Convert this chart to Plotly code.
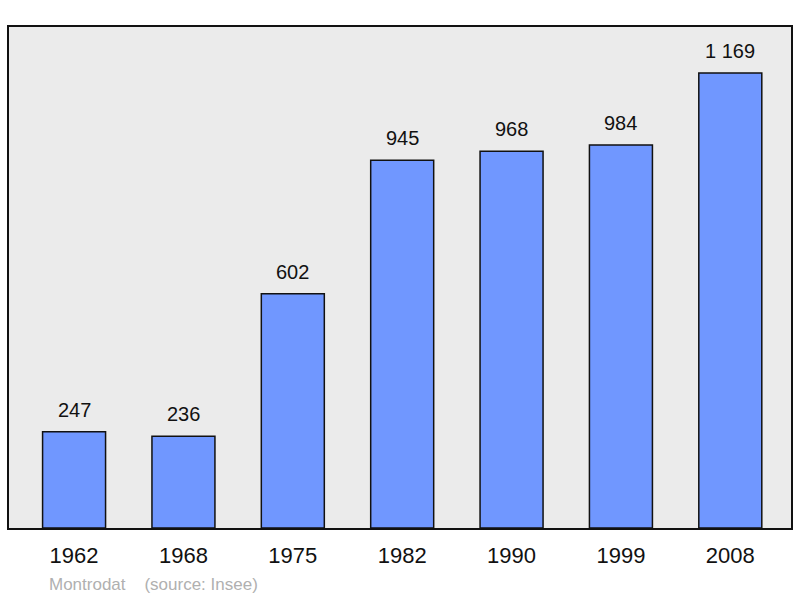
import plotly.graph_objects as go

years = ["1962", "1968", "1975", "1982", "1990", "1999", "2008"]
population = [247, 236, 602, 945, 968, 984, 1169]
labels = ["247", "236", "602", "945", "968", "984", "1 169"]

FONT = "Liberation Sans, Arial, sans-serif"

fig = go.Figure()
fig.add_trace(go.Bar(
    x=list(range(len(years))), y=population, width=0.576,
    marker=dict(color="#7097ff", line=dict(color="#111111", width=1.5)),
    hoverinfo="skip",
))

for i, (v, t) in enumerate(zip(population, labels)):
    fig.add_annotation(x=i, y=v, text=t, showarrow=False, yanchor="bottom",
                       yshift=9, font=dict(size=20, color="#111111", family=FONT))

fig.add_annotation(xref="paper", yref="paper", x=0.048, y=-0.112, xanchor="left",
                   yanchor="middle", showarrow=False,
                   text="Montrodat&nbsp;&nbsp;&nbsp;&nbsp;(source: Insee)",
                   font=dict(size=17, color="#b0b0b0", family=FONT))

fig.update_layout(
    width=800, height=598,
    margin=dict(l=9, r=7, t=27, b=70),
    paper_bgcolor="white", plot_bgcolor="#ebebeb",
    showlegend=False,
    font=dict(family=FONT),
    xaxis=dict(range=[-0.595, 6.555], tickvals=list(range(len(years))), ticktext=years,
               showgrid=False, zeroline=False, showline=True, mirror=True,
               linecolor="#111111", linewidth=2, ticks="", ticklen=0,
               ticklabelstandoff=7,
               tickfont=dict(size=22, color="#111111")),
    yaxis=dict(range=[0, 1287], showgrid=False, zeroline=False, showticklabels=False,
               showline=True, mirror=True, linecolor="#111111", linewidth=2, ticks=""),
)

fig.write_html("out.html", config={"displayModeBar": False},
               post_script="document.body.style.margin='0';")
